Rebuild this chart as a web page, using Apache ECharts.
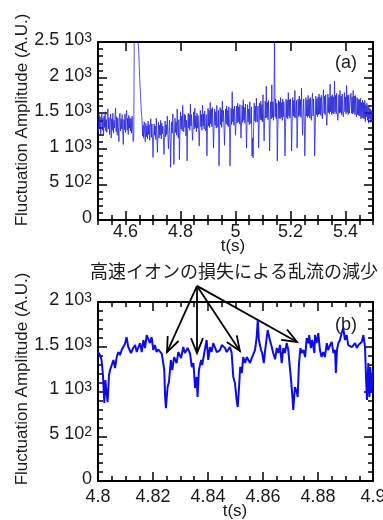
<!DOCTYPE html>
<html>
<head>
<meta charset="utf-8">
<script src="https://cdn.jsdelivr.net/npm/echarts@6/dist/echarts.min.js"></script>
<style>
  html, body { margin: 0; padding: 0; background: #fff; }
  #chart { width: 383px; height: 520px; }
</style>
</head>
<body>
<div id="chart"></div>
<script>
// (a) full trace, one sample every 2 ms from 4.5 s
const tStartA = 4.5;
const tStepA = 0.002;
const ampA = [
  1420, 1240, 1480, 1290, 1450, 1210, 1390, 1500, 1260, 1430,
  1180, 1460, 1300, 1520, 1250, 1410, 1230, 1470, 1560, 1280,
  1440, 1200, 1380, 1490, 1150, 1420, 1260, 1500, 1220, 1400,
  1290, 1470, 1570, 1240, 1450, 1190, 1430, 1300, 1100, 1460,
  1500, 1250, 1420, 1280, 1480, 1220, 1060, 1410, 1270, 1490,
  1230, 1450, 1540, 1260, 1430, 1200, 1470, 1290, 1440, 1250,
  1420, 1220, 1460, 1300, 1100, 1150, 2700, 2700, 2700, 2700,
  2700, 2700, 2700, 2700, 2400, 2150, 1950, 1800, 1650, 1500,
  1420, 1180, 1330, 1150, 1380, 1200, 1100, 1360, 1170, 1320,
  1140, 1390, 1200, 1340, 1120, 1300, 1420, 1160, 1350, 1180,
  880, 1160, 1350, 1190, 1320, 1130, 1430, 1200, 950, 1180,
  1370, 1150, 1330, 1190, 1400, 1140, 1360, 1210, 1320, 1160,
  920, 1180, 1390, 1170, 1340, 1200, 1460, 1220, 1000, 1190,
  1400, 1200, 740, 1100, 1380, 1220, 1490, 1240, 780, 1200,
  1430, 1230, 1380, 1190, 1560, 1250, 1150, 1410, 850, 1220,
  1520, 1280, 1460, 1250, 1610, 1330, 1240, 1490, 1300, 1470,
  1180, 1400, 830, 1250, 1500, 1290, 1480, 1260, 1630, 1320,
  1480, 1260, 1120, 1300, 1520, 1280, 1570, 1300, 1460, 1240,
  1500, 1290, 1470, 1270, 1040, 1300, 1540, 1310, 1480, 1260,
  1610, 1320, 1490, 1280, 1530, 1300, 1250, 1480, 900, 1280,
  1570, 1320, 1540, 1300, 1650, 1350, 1560, 1310, 1580, 1340,
  1010, 1300, 1560, 1330, 1520, 1290, 1610, 1360, 1300, 1540,
  760, 1200, 1580, 1340, 1550, 1300, 1670, 1380, 1540, 1320,
  1050, 1330, 1560, 1350, 1600, 1330, 1540, 1310, 1590, 1360,
  760, 1250, 1570, 1340, 1800, 1380, 1560, 1330, 1600, 1370,
  1190, 1380, 1600, 1360, 1640, 1380, 1590, 1350, 1620, 1390,
  1150, 1390, 1610, 1370, 1690, 1400, 1580, 1360, 1630, 1390,
  1010, 1350, 1620, 1380, 1560, 1340, 1660, 1410, 1350, 1590,
  900, 1150, 870, 1300, 1640, 1390, 1600, 1370, 1710, 1420,
  1380, 1600, 1010, 1330, 1640, 1410, 1670, 1400, 1620, 1380,
  1760, 1420, 1110, 1400, 1670, 1430, 1880, 1440, 1650, 1410,
  1680, 1430, 970, 1350, 1660, 1420, 1900, 1440, 1660, 1400,
  1680, 2700, 1450, 1700, 1420, 1640, 830, 1300, 1680, 1430,
  1660, 1420, 1720, 1440, 1650, 1400, 1700, 1450, 1660, 1420,
  900, 1300, 1700, 1440, 1680, 1420, 1790, 1460, 1690, 1430,
  1700, 1450, 970, 1350, 1720, 1460, 1680, 1440, 1820, 1470,
  1430, 1680, 1010, 1380, 1700, 1450, 1740, 1470, 1690, 1440,
  1850, 1460, 1190, 1450, 1700, 1430, 900, 1250, 1720, 1460,
  1680, 1440, 1750, 1460, 1700, 1430, 1720, 1470, 1400, 1690,
  1780, 1460, 1700, 1450, 900, 1300, 1740, 1480, 1700, 1450,
  1730, 1480, 1770, 1490, 1720, 1470, 1750, 1500, 1420, 1700,
  1830, 1500, 1740, 1480, 1760, 1490, 1330, 1500, 1770, 1510,
  1720, 1490, 1910, 1520, 1740, 1480, 1760, 1500, 1730, 1490,
  1950, 1520, 1750, 1490, 1780, 1510, 1400, 1500, 1760, 1500,
  1820, 1510, 1740, 1480, 1770, 1500, 1450, 1560, 1790, 1520,
  1730, 1490, 1890, 1510, 1750, 1480, 1760, 1500, 1480, 1720,
  1780, 1500, 1730, 1490, 1820, 1510, 1740, 1480, 1750, 1500,
  1450, 1720, 1480, 1700, 1470, 1690, 1460, 1710, 1420, 1650,
  1440, 1680, 1430, 1650, 1420, 1680, 1380, 1620, 1450, 1640,
  1400, 1600, 1360, 1580, 1420, 1560, 1370, 1540, 1380, 1530,
  1460
];

// (b) close-up 4.80 - 4.90 s
const timeB = [
  4.8000, 4.8004, 4.8007, 4.8013, 4.8018, 4.8023, 4.8027, 4.8029, 4.8035, 4.8040,
  4.8044, 4.8050, 4.8056, 4.8062, 4.8068, 4.8074, 4.8080, 4.8086, 4.8092, 4.8098,
  4.8104, 4.8110, 4.8120, 4.8128, 4.8135, 4.8141, 4.8147, 4.8153, 4.8159, 4.8165,
  4.8171, 4.8177, 4.8183, 4.8189, 4.8195, 4.8201, 4.8207, 4.8213, 4.8219, 4.8225,
  4.8232, 4.8237, 4.8241, 4.8244, 4.8247, 4.8253, 4.8258, 4.8265, 4.8270, 4.8277,
  4.8286, 4.8292, 4.8302, 4.8310, 4.8316, 4.8326, 4.8335, 4.8341, 4.8347, 4.8353,
  4.8359, 4.8362, 4.8367, 4.8375, 4.8379, 4.8387, 4.8395, 4.8401, 4.8407, 4.8413,
  4.8419, 4.8425, 4.8432, 4.8437, 4.8444, 4.8450, 4.8456, 4.8462, 4.8468, 4.8474,
  4.8480, 4.8486, 4.8492, 4.8498, 4.8504, 4.8508, 4.8513, 4.8517, 4.8523, 4.8528,
  4.8535, 4.8541, 4.8547, 4.8553, 4.8559, 4.8565, 4.8571, 4.8577, 4.8581, 4.8585,
  4.8593, 4.8597, 4.8603, 4.8607, 4.8613, 4.8617, 4.8625, 4.8632, 4.8637, 4.8644,
  4.8650, 4.8656, 4.8662, 4.8668, 4.8674, 4.8680, 4.8686, 4.8692, 4.8698, 4.8702,
  4.8707, 4.8710, 4.8716, 4.8723, 4.8726, 4.8731, 4.8736, 4.8741, 4.8747, 4.8753,
  4.8759, 4.8765, 4.8768, 4.8774, 4.8779, 4.8787, 4.8789, 4.8795, 4.8801, 4.8807,
  4.8813, 4.8819, 4.8825, 4.8832, 4.8837, 4.8844, 4.8850, 4.8856, 4.8862, 4.8865,
  4.8869, 4.8874, 4.8880, 4.8886, 4.8892, 4.8898, 4.8904, 4.8910, 4.8916, 4.8923,
  4.8928, 4.8935, 4.8941, 4.8947, 4.8953, 4.8959, 4.8965, 4.8971, 4.8975, 4.8978,
  4.8983, 4.8987, 4.8990, 4.8995, 4.9000
];
const ampB = [
  1441, 1463, 1407, 1352, 1184, 871, 1128, 1050, 882, 1184,
  1240, 1296, 1352, 1262, 1385, 1441, 1407, 1463, 1497, 1530,
  1608, 1497, 1430, 1486, 1519, 1441, 1497, 1541, 1441, 1575,
  1486, 1631, 1653, 1541, 1608, 1463, 1519, 1441, 1470, 1463,
  1420, 1430, 1240, 938, 815, 1050, 1106, 1352, 1240, 1385,
  1318, 1441, 1374, 1497, 1430, 1486, 1420, 1273, 1318, 1039,
  1162, 938, 1240, 1352, 1296, 1441, 1575, 1352, 1497, 1441,
  1541, 1497, 1441, 1430, 1463, 1519, 1541, 1486, 1441, 1430,
  1497, 1430, 1162, 1095, 905, 827, 1050, 1273, 1206, 1385,
  1318, 1385, 1352, 1318, 1374, 1385, 1463, 1608, 1798, 1575,
  1463, 1430, 1318, 1441, 1430, 1687, 1575, 1497, 1430, 1360,
  1486, 1430, 1519, 1318, 1486, 1430, 1541, 1463, 1262, 1128,
  938, 793, 1050, 994, 938, 1318, 1486, 1430, 1463, 1385,
  1597, 1541, 1631, 1486, 1575, 1430, 1631, 1541, 1653, 1463,
  1385, 1441, 1385, 1541, 1463, 1519, 1553, 1430, 1463, 1206,
  1463, 1541, 1575, 1653, 1709, 1575, 1631, 1519, 1541, 1497,
  1519, 1541, 1486, 1519, 1497, 1553, 1631, 1497, 1128, 905,
  1318, 938, 1273, 983, 1240
];

const xTicksA = [4.6, 4.8, 5, 5.2, 5.4];
const yTicksA = [0, 500, 1000, 1500, 2000, 2500];
const yMant = ['0', '5', '1', '1.5', '2', '2.5'];
const yExp = ['', '2', '3', '3', '3', '3'];

// arrows in (b): common origin above the frame, tips at the turbulence drops
const arrowFrom = [4.836, 2180];
const arrowTipT = [4.8251, 4.836, 4.8516, 4.8724];
const arrowTipV = [1441, 1430, 1452, 1553];

const FONT = '"Liberation Sans", Arial, sans-serif';
const INK = '#1a1a1a';

const frameLine = { show: true, onZero: false, lineStyle: { color: '#000', width: 2 } };
const tickStyle = { color: '#000', width: 1.5 };

function yLabel(v) {
  const k = yTicksA.indexOf(v);
  if (k < 0) return '';
  return yExp[k] ? `{m|${yMant[k]} 10}{e|${yExp[k]}}` : `{m|${yMant[k]}}`;
}

const yRich = {
  m: { fontSize: 18, lineHeight: 18, verticalAlign: 'middle', fontFamily: FONT, color: INK },
  e: { fontSize: 14, lineHeight: 6, verticalAlign: 'top', fontFamily: FONT, color: INK }
};

function xAxisA(position, labels) {
  return {
    type: 'value', gridIndex: 0, position, min: 4.5, max: 5.5,
    axisLine: frameLine,
    axisTick: { show: true, inside: true, length: 9, lineStyle: tickStyle, customValues: xTicksA },
    axisLabel: labels
      ? { show: true, customValues: xTicksA, margin: 3, fontSize: 18, fontFamily: FONT, color: INK,
          formatter: v => String(+v.toFixed(1)) }
      : { show: false },
    splitLine: { show: false }
  };
}

function xMinorA(position) {
  return {
    type: 'value', gridIndex: 0, position, min: 4.5, max: 5.5, interval: 0.05,
    axisLine: { show: false },
    axisTick: { show: true, inside: true, length: 5, lineStyle: tickStyle },
    axisLabel: { show: false },
    splitLine: { show: false }
  };
}

function xAxisB(position, labels) {
  return {
    type: 'value', gridIndex: 1, position, min: 4.8, max: 4.9, interval: 0.02,
    axisLine: frameLine,
    axisTick: { show: true, inside: true, length: 9, lineStyle: tickStyle },
    minorTick: { show: true, splitNumber: 4, length: 5, lineStyle: tickStyle },
    axisLabel: labels
      ? { show: true, margin: 7, fontSize: 18, fontFamily: FONT, color: INK,
          formatter: v => String(+v.toFixed(3)) }
      : { show: false },
    splitLine: { show: false }
  };
}

function yAxis(grid, max, position, labels) {
  return {
    type: 'value', gridIndex: grid, position, min: 0, max, interval: 500,
    axisLine: frameLine,
    axisTick: { show: true, inside: true, length: 9, lineStyle: tickStyle },
    minorTick: { show: true, splitNumber: 5, length: 5, lineStyle: tickStyle },
    axisLabel: labels
      ? { show: true, margin: 6, padding: [0, 0, 4, 0], formatter: yLabel, rich: yRich }
      : { show: false },
    splitLine: { show: false }
  };
}

function text(str, x, y, size, rot, family) {
  return {
    type: 'text', x, y, rotation: rot || 0, silent: true,
    style: {
      text: str, fontSize: size, fontFamily: family || FONT, fill: INK,
      align: 'center', verticalAlign: 'middle'
    }
  };
}

const chart = echarts.init(document.getElementById('chart'), null, { renderer: 'canvas' });

chart.setOption({
  animation: false,
  backgroundColor: '#fff',
  grid: [
    { left: 98, top: 42, width: 275, height: 178, outerBoundsMode: 'none' },
    { left: 98, top: 302, width: 275, height: 179, outerBoundsMode: 'none' }
  ],
  xAxis: [
    xAxisA('bottom', true), xMinorA('bottom'), xAxisA('top', false), xMinorA('top'),
    xAxisB('bottom', true), xAxisB('top', false)
  ],
  yAxis: [
    yAxis(0, 2500, 'left', true), yAxis(0, 2500, 'right', false),
    yAxis(1, 2000, 'left', true), yAxis(1, 2000, 'right', false)
  ],
  series: [
    {
      type: 'line', xAxisIndex: 0, yAxisIndex: 0, symbol: 'none', clip: true,
      data: ampA.map((v, i) => [tStartA + i * tStepA, v]),
      lineStyle: { color: '#1e1ed2', width: 1, opacity: 0.75 }
    },
    {
      type: 'line', xAxisIndex: 4, yAxisIndex: 2, symbol: 'none', clip: true,
      data: ampB.map((v, i) => [timeB[i], v]),
      lineStyle: { color: '#0c0ce6', width: 2 }
    }
  ]
});

// labels plus arrows placed through the (b) axes, set in one go
const finder = { xAxisIndex: 4, yAxisIndex: 2 };
const p0 = chart.convertToPixel(finder, arrowFrom);
const graphics = [
  text('Fluctuation Amplitude (A.U.)', 22, 120, 17, Math.PI / 2),
  text('Fluctuation Amplitude (A.U.)', 22, 379, 17, Math.PI / 2),
  text('t(s)', 233, 246, 17),
  text('t(s)', 235, 511, 17),
  text('(a)', 346, 63, 18),
  text('(b)', 346, 325, 18),
  text('高速イオンの損失による乱流の減少', 234, 271, 18, 0, '"Noto Sans CJK JP", sans-serif')
];
arrowTipT.forEach((t, i) => {
  const tip = chart.convertToPixel(finder, [t, arrowTipV[i]]);
  const dx = p0[0] - tip[0], dy = p0[1] - tip[1];
  const len = Math.hypot(dx, dy);
  const ux = dx / len, uy = dy / len;
  const a = 22 * Math.PI / 180, L = 16;
  const rot = s => [tip[0] + L * (ux * Math.cos(s * a) - uy * Math.sin(s * a)),
                    tip[1] + L * (ux * Math.sin(s * a) + uy * Math.cos(s * a))];
  graphics.push({ type: 'line', silent: true, shape: { x1: p0[0], y1: p0[1], x2: tip[0], y2: tip[1] },
                  style: { stroke: '#000', lineWidth: 1.8 } });
  graphics.push({ type: 'polyline', silent: true, shape: { points: [rot(1), tip, rot(-1)] },
                  style: { stroke: '#000', lineWidth: 1.8, fill: null } });
});
chart.setOption({ graphic: graphics });
</script>
</body>
</html>
